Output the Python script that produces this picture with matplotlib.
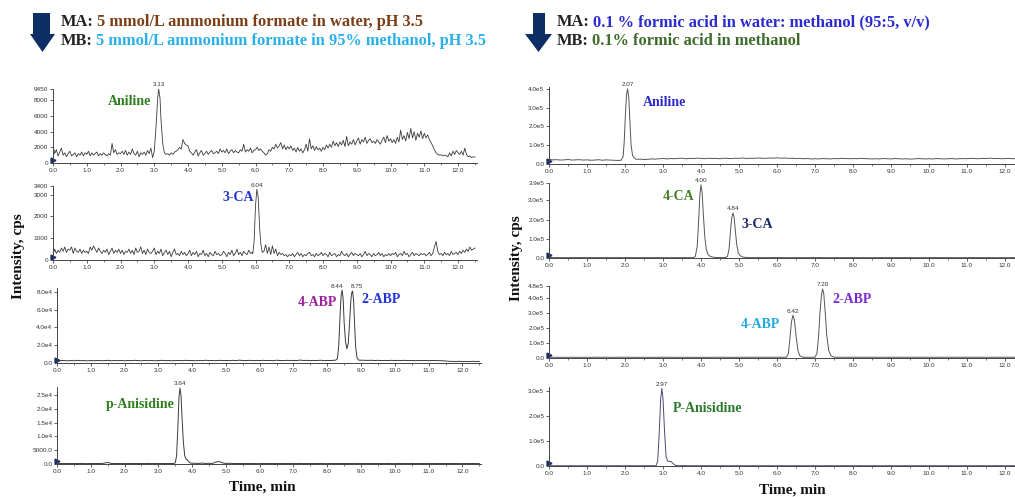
import numpy as np
import matplotlib
matplotlib.use("Agg")
import matplotlib.pyplot as plt
from matplotlib.patches import Polygon

W, H = 1015, 497
SERIF = "Liberation Serif"
SANS = "Liberation Sans"

# ---------------- data ----------------
# regular scan grids (min)
t_fine = np.round(np.arange(0, 12.5001, 0.05), 2)    # 251 points
t_coarse = np.round(np.arange(0, 12.5001, 0.1), 1)   # 126 points

# Left column: ammonium formate system
L1_base = [2300, 1200, 1700, 900, 1400, 1900, 1000, 1300, 800, 1200, 1500, 900, 1100, 1300, 800, 1200, 1000, 1400, 900, 1300,
           1100, 1500, 900, 1300, 1000, 1200, 1400, 900, 1200, 1000, 1300, 1100, 900, 1200, 1000, 2500, 1300, 1700, 1100, 1300,
           1200, 1500, 1100, 1600, 1000, 1400, 1100, 1800, 1200, 1000, 1500, 800, 1300, 1100, 1400, 1000, 1600, 1200, 1900, 700,
           1000, 1500, 4000, 8000, 9000, 6000, 2500, 1300, 1200, 1000, 1300, 1100, 1400, 1500, 1700, 2000, 1800, 3000, 2500, 2300,
           2200, 1500, 1300, 1000, 1400, 1700, 900, 1300, 1600, 1000, 1200, 1500, 1100, 1400, 1600, 1200, 1300, 1500, 1200, 1800,
           1400, 1600, 1300, 1800, 1200, 1500, 1700, 1300, 1600, 1400, 1300, 1700, 1500, 2400, 1400, 1700, 1500, 1900, 1300, 1600,
           1700, 2000, 1600, 1800, 1500, 1300, 1000, 1200, 1700, 1500, 2000, 1800, 2400, 1900, 2200, 2600, 1800, 2300, 1700, 2100,
           1800, 2200, 1600, 1900, 1400, 2000, 1500, 1800, 1300, 1700, 2400, 1500, 3100, 1800, 2200, 1600, 2100, 1700, 1900, 1500,
           2000, 1700, 2300, 1900, 2400, 2000, 2800, 2200, 2600, 2100, 2700, 2300, 2900, 2100, 3400, 2200, 2700, 2400, 3000, 2300,
           2800, 3200, 2400, 3000, 2700, 3300, 2500, 2900, 3100, 2600, 2800, 2500, 3000, 2700, 2400, 2900, 3300, 2600, 3500, 2800,
           3100, 2600, 3000, 2500, 3300, 2700, 4200, 3000, 3500, 2800, 3900, 3100, 4400, 3200, 4000, 2900, 3800, 3300, 4100, 3100,
           3800, 3200, 3600, 3000, 2600, 2200, 1700, 1300, 1100, 1000, 1050, 900, 1000, 950, 800, 1300, 900, 1500, 1100, 1600,
           1300, 1100, 1500, 1000, 1900, 1100, 800, 900, 700, 800, 750]
L1_pk_t = [2.95, 3.0, 3.05, 3.1, 3.13, 3.17, 3.2, 3.25, 3.3, 3.35]
L1_pk_y = [700, 1500, 4500, 8200, 9450, 8300, 5500, 2500, 1300, 1100]

L2_base = [250, 500, 300, 450, 350, 550, 400, 600, 350, 500, 450, 600, 300, 550, 400, 350, 500, 300, 450, 350,
           400, 300, 600, 450, 650, 500, 350, 550, 400, 300, 450, 350, 500, 250, 400, 550, 300, 450, 350, 500,
           300, 450, 250, 400, 350, 500, 300, 450, 250, 550, 350, 400, 600, 300, 450, 250, 500, 350, 300, 400,
           550, 250, 400, 300, 500, 200, 350, 450, 250, 400, 150, 350, 500, 250, 300, 200, 400, 250, 350, 200,
           300, 450, 200, 350, 250, 400, 150, 300, 250, 450, 200, 300, 150, 350, 250, 200, 400, 250, 300, 200,
           250, 400, 300, 150, 350, 250, 450, 200, 300, 500, 250, 350, 200, 400, 300, 250, 450, 300, 350, 250,
           300, 300, 300, 300, 300, 400, 700, 300, 600, 250, 650, 300, 500, 200, 350, 250, 300, 200, 250, 150,
           250, 200, 300, 150, 250, 350, 200, 300, 150, 250, 200, 300, 350, 200, 250, 150, 300, 200, 250, 350,
           200, 300, 250, 150, 350, 200, 250, 300, 150, 250, 200, 400, 250, 200, 300, 150, 250, 350, 200, 300,
           250, 200, 300, 150, 250, 400, 200, 300, 250, 150, 300, 200, 250, 350, 200, 300, 150, 250, 200, 300,
           200, 300, 250, 350, 150, 250, 300, 200, 400, 250, 300, 150, 250, 350, 200, 300, 250, 200, 300, 250,
           300, 200, 250, 350, 200, 300, 600, 850, 400, 250, 300, 200, 350, 250, 300, 200, 400, 250, 300, 350,
           250, 400, 300, 450, 350, 500, 400, 600, 450, 500, 550]
L2_pk_t = [5.92, 5.96, 6.0, 6.04, 6.08, 6.12, 6.16, 6.2]
L2_pk_y = [300, 900, 2500, 3250, 2900, 1500, 700, 350]

L3_base = [3500, 2600, 2900, 2400, 2800, 2500, 3000, 2600, 2700, 2400,
           2800, 2500, 2900, 2600, 2700, 3000, 2500, 2800, 2600, 2900,
           2500, 2800, 2600, 3000, 2700, 2500, 2900, 2600, 2800, 2500,
           2700, 3000, 2600, 2800, 2500, 2900, 2700, 2600, 3000, 2700,
           2800, 2500, 2900, 2600, 3100, 2700, 2800, 2600, 3000, 2700,
           2900, 2600, 3000, 2700, 3200, 2800, 2700, 3000, 2600, 2900,
           2800, 3000, 2700, 2900, 2600, 3100, 2800, 2700, 3000, 2800,
           2900, 2700, 3300, 2800, 3000, 2700, 2900, 2800, 3100, 2700,
           2900, 2800, 3000, 3100, 3200, 3400, 3500, 3500, 3400, 3300,
           3200, 3000, 2900, 3100, 2800, 3000, 2700, 2900, 2800, 3000,
           2700, 2900, 2800, 3000, 2700, 2900, 2600, 2800, 2700, 2900,
           2600, 2800, 2700, 2500, 2600, 2200, 1900, 1800, 1700, 1900,
           1700, 1800, 1600, 1900, 1700, 1800]
L3_pk_t = [8.25, 8.3, 8.34, 8.38, 8.41, 8.44, 8.47, 8.5, 8.54, 8.58, 8.62, 8.66, 8.7, 8.73, 8.75, 8.78, 8.81, 8.84, 8.88, 8.92, 8.97]
L3_pk_y = [3200, 5000, 20000, 55000, 76000, 82000, 72000, 45000, 24000, 16000, 22000, 45000, 72000, 80000, 81000, 70000, 42000, 18000, 6000, 3500, 3000]

L4_base = [200, 200, 150, 200, 150, 200, 150, 200, 150, 150,
           200, 150, 200, 150, 300, 600, 200, 150, 200, 150,
           150, 200, 150, 200, 150, 200, 150, 200, 150, 200,
           150, 200, 150, 200, 150, 200, 200, 200, 400, 800,
           300, 250, 200, 350, 200, 250, 200, 700, 900, 400,
           200, 250, 200, 150, 200, 150, 200, 150, 200, 150,
           150, 200, 150, 200, 150, 200, 150, 200, 150, 200,
           200, 150, 200, 150, 200, 150, 200, 150, 200, 150,
           150, 200, 150, 200, 150, 200, 150, 200, 150, 200,
           200, 150, 200, 150, 200, 150, 200, 150, 200, 150,
           150, 200, 150, 200, 150, 200, 150, 200, 150, 200,
           200, 150, 200, 150, 200, 150, 200, 150, 200, 150,
           150, 200, 150, 200, 150, 200]
L4_pk_t = [3.45, 3.5, 3.54, 3.58, 3.61, 3.64, 3.67, 3.7, 3.74, 3.78, 3.82, 3.86, 3.9, 3.95]
L4_pk_y = [200, 400, 3000, 14000, 24000, 27500, 25000, 17000, 8000, 3000, 1800, 1500, 800, 300]

# Right column: formic acid system
R1_base = [25000, 22000, 23000, 21000, 22000, 24000, 21000, 22000, 23000, 21000,
           22000, 20000, 21000, 23000, 20000, 22000, 21000, 20000, 19000, 18000,
           20000, 20000, 20000, 25000, 26000, 24000, 25000, 27000, 26000, 28000,
           30000, 27000, 29000, 28000, 30000, 31000, 28000, 30000, 29000, 31000,
           30000, 28000, 31000, 29000, 30000, 28000, 31000, 30000, 29000, 31000,
           30000, 32000, 29000, 31000, 30000, 32000, 31000, 30000, 32000, 31000,
           33000, 31000, 32000, 30000, 31000, 29000, 30000, 28000, 29000, 27000,
           28000, 27000, 29000, 28000, 27000, 29000, 28000, 30000, 29000, 28000,
           29000, 28000, 30000, 29000, 28000, 27000, 28000, 27000, 29000, 28000,
           27000, 29000, 28000, 27000, 28000, 26000, 27000, 29000, 28000, 27000,
           28000, 27000, 29000, 28000, 27000, 28000, 29000, 27000, 28000, 29000,
           28000, 30000, 29000, 28000, 30000, 29000, 31000, 29000, 30000, 28000,
           29000, 30000, 28000, 29000, 30000, 29000]
R1_pk_t = [1.9, 1.95, 1.98, 2.01, 2.04, 2.07, 2.1, 2.13, 2.16, 2.2, 2.25, 2.3]
R1_pk_y = [20000, 40000, 120000, 260000, 370000, 400000, 350000, 220000, 100000, 45000, 30000, 25000]

R2_base = [2500, 2000, 2200, 1800, 2100, 1900, 2200, 2000, 1800, 2100,
           2000, 1900, 2200, 1800, 2000, 2100, 1900, 2200, 2000, 1800,
           2100, 1900, 2000, 2200, 1800, 2000, 2100, 1900, 2200, 2000,
           1800, 2100, 1900, 2000, 2200, 1800, 2000, 2100, 1900, 2000,
           2000, 2000, 2000, 2000, 2000, 2000, 2000, 2000, 2000, 2000,
           2000, 2000, 2000, 2100, 1900, 2000, 2200, 1800, 2000, 2100,
           1900, 2200, 2000, 1800, 2100, 1900, 2000, 2200, 1800, 2000,
           2100, 1900, 2200, 2000, 1800, 2100, 1900, 2000, 2200, 1800,
           2000, 2100, 1900, 2200, 2000, 1800, 2100, 1900, 2000, 2200,
           1800, 2000, 2100, 1900, 2200, 2000, 1800, 2100, 1900, 2000,
           2200, 1800, 2000, 2100, 1900, 2200, 2000, 1800, 2100, 1900,
           2000, 2200, 1800, 2000, 2100, 1900, 2200, 2000, 1800, 2100,
           1900, 2000, 2200, 1800, 2000, 2100]
R2_pk1_t = [3.8, 3.85, 3.9, 3.94, 3.97, 4.0, 4.03, 4.06, 4.1, 4.14, 4.18, 4.23, 4.3, 4.4]
R2_pk1_y = [2000, 8000, 60000, 200000, 330000, 380000, 340000, 230000, 110000, 45000, 20000, 10000, 5000, 2500]
R2_pk2_t = [4.65, 4.7, 4.74, 4.78, 4.81, 4.84, 4.87, 4.9, 4.94, 4.98, 5.03, 5.1, 5.2]
R2_pk2_y = [2500, 10000, 50000, 150000, 210000, 234000, 215000, 150000, 70000, 28000, 12000, 5000, 2500]

R3_base = [6000, 4500, 5000, 4200, 4800, 4500, 5000, 4300, 4700, 4500,
           4800, 4400, 4900, 4500, 4700, 5000, 4400, 4800, 4600, 4900,
           4500, 4800, 4600, 5000, 4700, 4500, 4900, 4600, 4800, 4500,
           4700, 5000, 4600, 4800, 4500, 4900, 4700, 4600, 5000, 4700,
           4800, 4500, 4900, 4600, 5100, 4700, 4800, 4600, 5000, 4700,
           4900, 4600, 5000, 4700, 5200, 4800, 4700, 5000, 4600, 4900,
           4800, 5000, 4700, 4900, 4600, 5100, 4800, 4700, 5000, 4800,
           4900, 4700, 5300, 4800, 5000, 4700, 4900, 4800, 5100, 4700,
           4900, 4800, 5000, 4800, 5100, 4700, 4900, 4800, 5000, 4700,
           4900, 4800, 5000, 4700, 4900, 4800, 5000, 4700, 4900, 4800,
           5000, 4700, 4900, 4800, 5000, 4700, 4900, 4800, 5000, 4700,
           4900, 4800, 5000, 4700, 4900, 4800, 5000, 4700, 4900, 4800,
           5000, 4700, 4900, 4800, 5000, 4700]
R3_pk1_t = [6.25, 6.3, 6.34, 6.38, 6.42, 6.46, 6.5, 6.55, 6.6, 6.68]
R3_pk1_y = [5000, 30000, 130000, 240000, 285000, 250000, 150000, 50000, 15000, 5000]
R3_pk2_t = [7.0, 7.05, 7.09, 7.13, 7.17, 7.2, 7.23, 7.27, 7.31, 7.36, 7.42, 7.5]
R3_pk2_y = [5000, 30000, 130000, 300000, 420000, 460000, 430000, 300000, 150000, 50000, 15000, 5000]

R4_base = [1500, 1000, 1200, 900, 1100, 1000, 1200, 900, 1100, 1000,
           1200, 900, 1100, 1000, 1200, 900, 1100, 1000, 1200, 900,
           1100, 1000, 1200, 900, 1100, 1000, 1200, 900, 1000, 1500,
           1500, 1500, 1500, 1500, 2000, 1500, 1200, 1000, 1100, 900,
           1100, 1000, 1200, 900, 1100, 1000, 1200, 900, 1100, 1000,
           1200, 900, 1100, 1000, 1200, 900, 1100, 1000, 1200, 900,
           1100, 1000, 1200, 900, 1100, 1000, 1200, 900, 1100, 1000,
           1200, 900, 1100, 1000, 1200, 900, 1100, 1000, 1200, 900,
           1100, 1000, 1200, 900, 1100, 1000, 1200, 900, 1100, 1000,
           1200, 900, 1100, 1000, 1200, 900, 1100, 1000, 1200, 900,
           1100, 1000, 1200, 900, 1100, 1000, 1200, 900, 1100, 1000,
           1200, 900, 1100, 1000, 1200, 900, 1100, 1000, 1200, 900,
           1100, 1000, 1200, 900, 1100, 1000]
R4_pk_t = [2.82, 2.86, 2.9, 2.94, 2.97, 3.0, 3.04, 3.08, 3.12, 3.17, 3.22, 3.27, 3.32, 3.4]
R4_pk_y = [2000, 20000, 130000, 270000, 310000, 270000, 140000, 40000, 20000, 18000, 17000, 9000, 3000, 1000]

# compound names and retention-time labels
L_names = [["Aniline"], ["3-CA"], ["4-ABP", "2-ABP"], ["p-Anisidine"]]
L_rts = [["3.13"], ["6.04"], ["8.44", "8.75"], ["3.64"]]
R_names = [["Aniline"], ["4-CA", "3-CA"], ["4-ABP", "2-ABP"], ["P-Anisidine"]]
R_rts = [["2.07"], ["4.00", "4.84"], ["6.42", "7.20"], ["2.97"]]

# ---------------- helpers ----------------
def merge(tb, yb, segs):
    tb = np.asarray(tb, float)
    yb = np.asarray(yb, float)
    keep = np.ones(len(tb), bool)
    for t, _ in segs:
        keep &= ~((tb >= t[0]) & (tb <= t[-1]))
    ta = np.concatenate([tb[keep]] + [np.asarray(t, float) for t, _ in segs])
    ya = np.concatenate([yb[keep]] + [np.asarray(y, float) for _, y in segs])
    o = np.argsort(ta)
    return ta[o], ya[o]

fig = plt.figure(figsize=(W / 100, H / 100), dpi=100)

def add_px_axes(left, right, ybot, ytop):
    return fig.add_axes([left / W, (H - ybot) / H, (right - left) / W, (ybot - ytop) / H])

def style(ax, xlim, ylim, yt, ytl):
    ax.set_xlim(*xlim)
    ax.set_ylim(*ylim)
    for s in ("top", "right"):
        ax.spines[s].set_visible(False)
    for s in ("left", "bottom"):
        ax.spines[s].set_color("#444444")
        ax.spines[s].set_linewidth(0.7)
    ax.set_xticks(np.arange(0, 12.01, 1.0))
    ax.set_xticklabels(["%.1f" % v for v in np.arange(0, 12.01, 1.0)])
    ax.set_xticks(np.arange(0.5, 12.6, 1.0), minor=True)
    ax.set_yticks(yt)
    ax.set_yticklabels(ytl)
    ax.tick_params(which="major", direction="out", length=2.2, width=0.6, color="#444444",
                   labelsize=4.6, labelcolor="#333333", pad=1.2)
    ax.tick_params(which="minor", direction="out", length=1.2, width=0.5, color="#444444")
    for lab in ax.get_xticklabels() + ax.get_yticklabels():
        lab.set_family(SANS)
    ax.patch.set_alpha(0)
    ax.plot([0.0], [0.04], marker=">", ms=3.5, color="#1a2a6a", transform=ax.transAxes, clip_on=False)

def rt_labels(ax, t, y, labels, aligns=None):
    aligns = aligns or ["center"] * len(labels)
    for lab, ha in zip(labels, aligns):
        tv = float(lab)
        m = (t > tv - 0.06) & (t < tv + 0.06)
        dx = {"center": 0, "right": 1.0, "left": -1.0}[ha]
        ax.annotate(lab, (tv, y[m].max()), xytext=(dx, 1.2), textcoords="offset points",
                    ha=ha, va="bottom", fontsize=4.6, color="#333333", family=SANS)

def name(ax, x, y, s, c):
    ax.text(x, y, s, color=c, fontsize=10, fontweight="bold", family=SERIF, ha="center", va="center")

# ---------------- left panels ----------------
lc = "#3a3a3a"
ax = add_px_axes(53, 476.6, 163, 89)
t, y = merge(t_fine, L1_base, [(L1_pk_t, L1_pk_y)])
ax.plot(t, y, color=lc, lw=0.6)
style(ax, (0, 12.55), (0, 9450), [0, 2000, 4000, 6000, 8000, 9450], ["0", "2000", "4000", "6000", "8000", "9450"])
rt_labels(ax, t, y, L_rts[0])
name(ax, 2.28, 7900, L_names[0][0], "#2e7d1e")

ax = add_px_axes(53, 476.6, 260, 186)
t, y = merge(t_fine, L2_base, [(L2_pk_t, L2_pk_y)])
ax.plot(t, y, color=lc, lw=0.6)
style(ax, (0, 12.55), (0, 3400), [0, 1000, 2000, 3000, 3400], ["0", "1000", "2000", "3000", "3400"])
rt_labels(ax, t, y, L_rts[1])
name(ax, 5.48, 2850, L_names[1][0], "#2233cc")

ax = add_px_axes(57, 481, 363, 288.4)
t, y = merge(t_coarse, L3_base, [(L3_pk_t, L3_pk_y)])
ax.plot(t, y, color=lc, lw=0.7)
style(ax, (0, 12.55), (0, 8.4e4), [0, 2e4, 4e4, 6e4, 8e4], ["0.0", "2.0e4", "4.0e4", "6.0e4", "8.0e4"])
rt_labels(ax, t, y, L_rts[2], ["right", "left"])
name(ax, 7.7, 6.76e4, L_names[2][0], "#a020a0")
name(ax, 9.6, 7.1e4, L_names[2][1], "#2233dd")

ax = add_px_axes(57, 481, 464, 386.7)
t, y = merge(t_coarse, L4_base, [(L4_pk_t, L4_pk_y)])
ax.plot(t, y, color=lc, lw=0.7)
style(ax, (0, 12.55), (0, 2.8e4), [0, 5000, 1e4, 1.5e4, 2e4, 2.5e4],
      ["0.0", "5000.0", "1.0e4", "1.5e4", "2.0e4", "2.5e4"])
rt_labels(ax, t, y, L_rts[3])
name(ax, 2.46, 2.17e4, L_names[3][0], "#2e7d1e")

# ---------------- right panels ----------------
rc = "#555555"
RL, RR, RX = 549, 549 + 12.5 * 38, (0, 12.5)
ax = add_px_axes(RL, RR, 164, 87)
t, y = merge(t_coarse, R1_base, [(R1_pk_t, R1_pk_y)])
ax.plot(t, y, color=rc, lw=0.7)
style(ax, RX, (0, 4.1e5), [0, 1e5, 2e5, 3e5, 4e5], ["0.0", "1.0e5", "2.0e5", "3.0e5", "4.0e5"])
rt_labels(ax, t, y, R_rts[0])
name(ax, 3.05, 3.25e5, R_names[0][0], "#2a2acc")

ax = add_px_axes(RL, RR, 258, 183)
t, y = merge(t_coarse, R2_base, [(R2_pk1_t, R2_pk1_y), (R2_pk2_t, R2_pk2_y)])
ax.plot(t, y, color=rc, lw=0.7)
style(ax, RX, (0, 3.9e5), [0, 1e5, 2e5, 3e5, 3.9e5], ["0.0", "1.0e5", "2.0e5", "3.0e5", "3.9e5"])
rt_labels(ax, t, y, R_rts[1])
name(ax, 3.42, 3.22e5, R_names[1][0], "#4a7a2a")
name(ax, 5.47, 1.72e5, R_names[1][1], "#1a2a6a")

ax = add_px_axes(RL, RR, 358, 286)
t, y = merge(t_coarse, R3_base, [(R3_pk1_t, R3_pk1_y), (R3_pk2_t, R3_pk2_y)])
ax.plot(t, y, color=rc, lw=0.7)
style(ax, RX, (0, 4.8e5), [0, 1e5, 2e5, 3e5, 4e5, 4.8e5],
      ["0.0", "1.0e5", "2.0e5", "3.0e5", "4.0e5", "4.8e5"])
rt_labels(ax, t, y, R_rts[2])
name(ax, 5.55, 2.2e5, R_names[2][0], "#22aadd")
name(ax, 7.97, 3.93e5, R_names[2][1], "#7a2ad0")

ax = add_px_axes(RL, RR, 466, 387)
t, y = merge(t_coarse, R4_base, [(R4_pk_t, R4_pk_y)])
ax.plot(t, y, color="#4a4a72", lw=0.7)
style(ax, RX, (0, 3.16e5), [0, 1e5, 2e5, 3e5], ["0.0", "1.0e5", "2.0e5", "3.0e5"])
rt_labels(ax, t, y, R_rts[3])
name(ax, 4.16, 2.32e5, R_names[3][0], "#2a7a2a")

# ---------------- overlay: headers, axis titles ----------------
ov = fig.add_axes([0, 0, 1, 1])
ov.set_xlim(0, W)
ov.set_ylim(H, 0)
ov.axis("off")
ov.patch.set_alpha(0)

navy = "#0d2f63"
def arrow(x0, x1, hx0, hx1, ytop, yneck, ytip):
    xm = (hx0 + hx1) / 2
    ov.add_patch(Polygon([(x0, ytop), (x1, ytop), (x1, yneck), (hx1, yneck), (xm, ytip),
                          (hx0, yneck), (x0, yneck)], closed=True, color=navy, lw=0))

arrow(33, 50, 30, 55, 13, 34, 52)
arrow(533, 545, 525, 552, 13, 34, 52)

def colored_line(x, y, parts, size=11.8):
    prev = ov.text(x, y, parts[0][0], color=parts[0][1], fontsize=size, fontweight="bold",
                   family=SERIF, va="baseline", ha="left")
    for s, c in parts[1:]:
        prev = ov.annotate(s, xy=(1, 0), xycoords=prev, xytext=(2.5, 0), textcoords="offset points",
                           color=c, fontsize=size, fontweight="bold", family=SERIF,
                           va="bottom", ha="left")

colored_line(61, 26, [("MA:", "#222222"), ("5 mmol/L ammonium formate in water, pH 3.5", "#7b3f16")])
colored_line(61, 45, [("MB:", "#222222"), ("5 mmol/L ammonium formate in 95% methanol, pH 3.5", "#2ab0e8")])
colored_line(557, 26, [("MA:", "#222222"), ("0.1 % formic acid in water: methanol (95:5, v/v)", "#2a2ad0")])
colored_line(557, 45, [("MB:", "#222222"), ("0.1% formic acid in methanol", "#3d6b2a")])

for xc, yc in [(19, 256), (517, 258)]:
    ov.text(xc, yc, "Intensity, cps", rotation=90, ha="center", va="center",
            fontsize=11, fontweight="bold", family=SERIF, color="#111111")
for xc, yc in [(262, 487), (792, 490)]:
    ov.text(xc, yc, "Time, min", ha="center", va="center",
            fontsize=11, fontweight="bold", family=SERIF, color="#111111")

fig.savefig("out.png", dpi=100)
